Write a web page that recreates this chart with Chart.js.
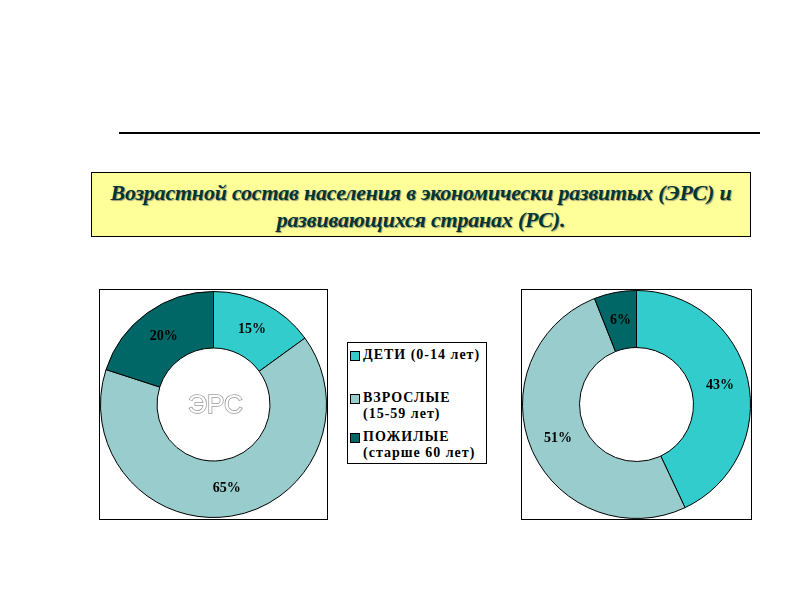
<!DOCTYPE html>
<html>
<head>
<meta charset="utf-8">
<script src="https://cdn.jsdelivr.net/npm/chart.js@4"></script>
<style>
  body { margin: 0; width: 800px; height: 600px; background: #fff; position: relative; overflow: hidden; }
  .rule { position: absolute; left: 119px; top: 132px; width: 641px; height: 2px; background: #000; }
  .title { position: absolute; left: 91px; top: 172px; width: 660px; height: 65px; background: #ffff99; border: 1px solid #000;
           font: italic bold 22px "Liberation Serif", serif; color: #003535; text-align: center; line-height: 27px;
           padding-top: 6px; box-sizing: border-box; text-shadow: 1px 1px 1px #9a9a70; letter-spacing: -0.2px; }
  .box { position: absolute; border: 1px solid #000; background: #fff; box-sizing: border-box; }
  .box canvas { position: absolute; }
  #legend { left: 347px; top: 342px; width: 140px; height: 122px; font: bold 14px "Liberation Serif", serif; color: #000; padding: 4px 0 0 2px; letter-spacing: 1px; }
  .item { position: relative; padding-left: 13px; line-height: 16px; }
  .item span.sw { position: absolute; left: 0; top: 4px; width: 8px; height: 8px; border: 1px solid #000; }
  .item span.age { white-space: nowrap; }
</style>
</head>
<body>
<div class="rule"></div>
<div class="title">Возрастной состав населения в экономически развитых (ЭРС) и<br>развивающихся странах (РС).</div>

<div class="box" style="left:99px; top:289px; width:229px; height:231px;"><canvas id="ers"></canvas></div>
<div class="box" id="legend"></div>
<div class="box" style="left:521px; top:289px; width:231px; height:231px;"><canvas id="rs"></canvas></div>

<script>
const categories = ['ДЕТИ (0-14 лет)', 'ВЗРОСЛЫЕ (15-59 лет)', 'ПОЖИЛЫЕ (старше 60 лет)'];
const ersValues = [15, 65, 20];
const rsValues = [43, 51, 6];
const colors = ['#33cccc', '#99cccc', '#006666'];

// legend in its own box between the charts
const legendGaps = [0, 27, 7];
const legend = document.getElementById('legend');
categories.forEach(function (c, i) {
    const d = document.createElement('div');
    d.className = 'item';
    d.style.marginTop = legendGaps[i] + 'px';
    const k = c.indexOf(' (');
    d.innerHTML = '<span class="sw" style="background:' + colors[i] + '"></span>' +
        c.slice(0, k) + ' <span class="age">' + c.slice(k + 1) + '</span>';
    legend.appendChild(d);
});

const pctLabels = {
    id: 'pctLabels',
    afterDatasetsDraw(chart) {
        const ctx = chart.ctx;
        const meta = chart.getDatasetMeta(0);
        ctx.save();
        ctx.font = 'bold 14px "Liberation Serif", serif';
        ctx.fillStyle = '#000';
        ctx.textAlign = 'center';
        ctx.textBaseline = 'middle';
        meta.data.forEach(function (arc, i) {
            const p = arc.getCenterPoint();
            ctx.fillText(chart.data.datasets[0].data[i] + '%', p.x, p.y);
        });
        const txt = chart.options.plugins.centerText;
        if (txt && txt.text) {
            const a = meta.data[0];
            ctx.font = '26px "Liberation Sans", sans-serif';
            ctx.lineWidth = 1.5;
            ctx.strokeStyle = '#9a9a9a';
            ctx.fillStyle = '#fff';
            ctx.strokeText(txt.text, a.x + 2, a.y + 1);
            ctx.fillText(txt.text, a.x + 2, a.y + 1);
        }
        ctx.restore();
    }
};

function donut(id, values, center) {
    const canvas = document.getElementById(id);
    canvas.style.left = '0px';
    canvas.style.top = '0px';
    return new Chart(canvas, {
        type: 'doughnut',
        data: {
            labels: categories,
            datasets: [{
                data: values,
                backgroundColor: colors,
                borderColor: '#000',
                borderWidth: 1
            }]
        },
        options: {
            responsive: false,
            animation: false,
            cutout: '50%',
            layout: { padding: 0 },
            plugins: {
                legend: { display: false },
                tooltip: { enabled: false },
                centerText: { text: center }
            }
        },
        plugins: [pctLabels]
    });
}

document.getElementById('ers').width = 227;
document.getElementById('ers').height = 229;
document.getElementById('rs').width = 229;
document.getElementById('rs').height = 229;
donut('ers', ersValues, 'ЭРС');
donut('rs', rsValues, '');
</script>
</body>
</html>
